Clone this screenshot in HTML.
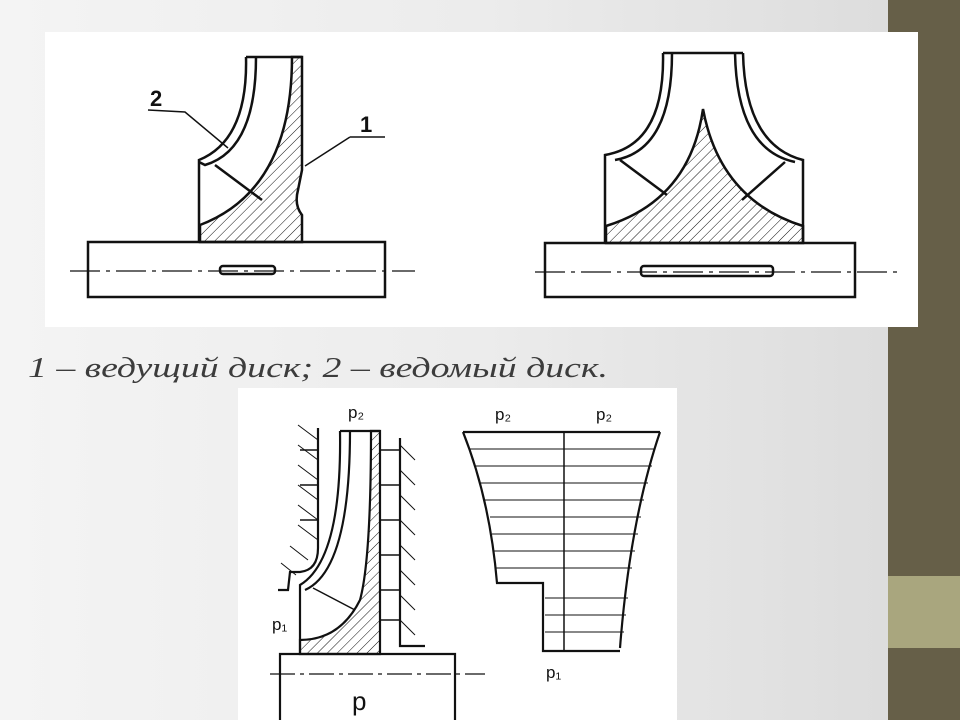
<!DOCTYPE html>
<html><head><meta charset="utf-8"><style>
html,body{margin:0;padding:0}
body{width:960px;height:720px;position:relative;overflow:hidden;background:linear-gradient(90deg,#f4f4f4 0%,#ececec 50%,#dadada 100%);font-family:"Liberation Sans",sans-serif}
.bar{position:absolute;left:888px;top:0;width:72px;height:720px;background:#665f48}
.bar2{position:absolute;left:888px;top:576px;width:72px;height:72px;background:#a9a67e}
</style></head><body>
<div class="bar"></div><div class="bar2"></div>
<svg width="960" height="720" style="position:absolute;left:0;top:0">
<defs>
<pattern id="h" width="7" height="7" patternUnits="userSpaceOnUse" patternTransform="rotate(45)"><line x1="0" y1="0" x2="0" y2="7" stroke="#111" stroke-width="1"/></pattern>
</defs>
<rect x="45" y="32" width="873" height="295" fill="#fff"/>
<rect x="238" y="388" width="439" height="332" fill="#fff"/>
<g fill="none" stroke="#111" stroke-width="2.5">
<rect x="88" y="242" width="297" height="55"/>
<line x1="70" y1="271" x2="415" y2="271" stroke-width="1.2" stroke-dasharray="30 6 4 6"/>
<rect x="220" y="266" width="55" height="8" rx="3"/>
<path d="M292 57 Q292 190 200 225 L200 242 L302 242 L302 215 Q294 205 298 190 L302 170 L302 57 Z" fill="url(#h)"/>
<path d="M246 57 Q248 140 199 160 L199 242"/>
<path d="M256 57 Q256 150 205 165 L199 162" />
<line x1="215" y1="165" x2="262" y2="200"/>
<line x1="246" y1="57" x2="302" y2="57"/>
<path d="M148 110 L185 112 L228 148" stroke-width="1.5"/>
<path d="M350 137 L385 137 M350 137 L305 166" stroke-width="1.5"/>
<rect x="545" y="243" width="310" height="54"/>
<line x1="535" y1="272" x2="900" y2="272" stroke-width="1.2" stroke-dasharray="30 6 4 6"/>
<rect x="641" y="266" width="132" height="10" rx="3"/>
<path d="M703 109 Q690 200 606 226 L606 243 L803 243 L803 226 Q720 200 703 109 Z" fill="url(#h)"/>
<path d="M663 53 L743 53"/>
<path d="M663 53 Q665 145 605 155 L605 243"/>
<path d="M672 53 Q672 150 615 160"/>
<path d="M743 53 Q745 145 803 160 L803 243"/>
<path d="M735 53 Q737 150 795 162"/>
<line x1="620" y1="160" x2="667" y2="195"/>
<line x1="785" y1="162" x2="742" y2="200"/>
</g>
<g font-family="Liberation Sans,sans-serif" font-weight="bold" font-size="22" fill="#111">
<text x="150" y="106">2</text><text x="360" y="132">1</text>
</g>
<g fill="none" stroke="#111" stroke-width="2.2">
<path d="M371 431 L380 431 L380 654 L300 654 L300 640 Q340 640 360 600 Q371 560 371 431 Z" fill="url(#h)"/>
<path d="M340 431 L380 431"/>
<path d="M340 431 Q342 560 300 585 L300 654"/>
<path d="M350 431 Q350 570 305 590"/>
<line x1="313" y1="588" x2="355" y2="610" stroke-width="1.5"/>
<path d="M318 428 L318 548 Q318 570 300 572 L290 572 L288 590 L278 590"/>
<path d="M400 438 L400 646 L425 646"/>
<path d="M280 720 L280 654 L455 654 L455 720"/>
<line x1="270" y1="674" x2="485" y2="674" stroke-width="1.2" stroke-dasharray="25 5 4 5"/>
<path d="M463 432 L660 432"/>
<path d="M463 432 Q490 500 497 583 L543 583 L543 651 L620 651"/>
<path d="M660 432 Q630 520 620 648"/>
<line x1="564" y1="432" x2="564" y2="651" stroke-width="1.5"/>
</g>
<g stroke="#111" stroke-width="1" fill="none">
<path d="M470 449H655M475 466H652M480 483H648M485 500H644M490 517H641M492 534H638M494 551H635M496 568H632M545 598H628M545 615H626M545 632H624"/>
<path d="M318 450H300M318 485H300M318 520H300M400 450H380M400 485H380M400 520H380M400 555H380M400 590H380M400 620H380" stroke-width="1.5"/>
<path d="M318 440l-20 -15M318 460l-20 -15M318 480l-20 -15M318 500l-20 -15M318 520l-20 -15M318 540l-20 -15M308 560l-18 -14M296 575l-15 -12M400 445l15 15M400 470l15 15M400 495l15 15M400 520l15 15M400 545l15 15M400 570l15 15M400 595l15 15M400 620l15 15"/>
</g>
<g font-family="Liberation Sans,sans-serif" font-size="17" fill="#111">
<text x="348" y="418">p₂</text><text x="495" y="420">p₂</text><text x="596" y="420">p₂</text>
<text x="272" y="630">p₁</text><text x="546" y="678">p₁</text><text x="352" y="710" font-size="26">p</text>
</g>
<text x="28" y="377" font-family="Liberation Serif,serif" font-style="italic" font-size="29" fill="#3c3c3c" textLength="580" lengthAdjust="spacingAndGlyphs">1 – ведущий диск; 2 – ведомый диск.</text>
</svg>
</body></html>
